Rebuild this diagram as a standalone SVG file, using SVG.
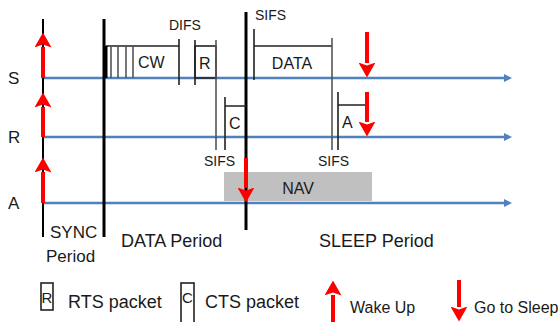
<svg xmlns="http://www.w3.org/2000/svg" width="560" height="322" viewBox="0 0 560 322">
<style>
text{font-family:"Liberation Sans",Arial,sans-serif;fill:#1a1a1a}
.lbl{font-size:17px}
.big{font-size:18px}
.sm{font-size:14px}
.box{font-size:16px}
.bl{stroke:#4f81bd;stroke-width:2.5;fill:none}
.blk{stroke:#000;fill:none}
.th{stroke:#222;stroke-width:1.6;fill:none}
.gr{stroke:#555;stroke-width:1.6;fill:none}
.red{stroke:#ff0000;stroke-width:4;fill:none}
</style>
<defs>
<marker id="rh" viewBox="0 0 15 17" refX="0.5" refY="8.5" markerWidth="15" markerHeight="17" markerUnits="userSpaceOnUse" orient="auto"><path d="M0,0 L15,8.5 L0,17 L3,8.5 z" fill="#ff0000"/></marker>
<marker id="bh" viewBox="0 0 8 8" refX="1" refY="4" markerWidth="8" markerHeight="8" markerUnits="userSpaceOnUse" orient="auto"><path d="M0,0 L8,4 L0,8 z" fill="#4f81bd"/></marker>
</defs>
<rect width="560" height="322" fill="#fff"/>
<g id="nav"><rect x="224" y="172" width="148" height="29" fill="#c0c0c0"/><text x="298" y="194" text-anchor="middle" class="box">NAV</text></g>
<g id="timelines">
<line class="bl" x1="43" y1="78" x2="505" y2="78" marker-end="url(#bh)"/>
<line class="bl" x1="43" y1="137" x2="505" y2="137" marker-end="url(#bh)"/>
<line class="bl" x1="43" y1="203" x2="505" y2="203" marker-end="url(#bh)"/>
</g>
<g id="labels-nodes">
<text x="8" y="84" class="lbl">S</text>
<text x="8" y="143" class="lbl">R</text>
<text x="8" y="209" class="lbl">A</text>
</g>
<g id="periods">
<line class="blk" x1="43" y1="19" x2="43" y2="237" stroke-width="2"/>
<line class="blk" x1="104" y1="19" x2="104" y2="237" stroke-width="3"/>
<line class="blk" x1="246" y1="12" x2="246" y2="230" stroke-width="3"/>
<text x="50" y="238" class="lbl">SYNC</text>
<text x="46" y="262" class="lbl">Period</text>
<text x="121" y="247" class="big">DATA Period</text>
<text x="319" y="247" class="big">SLEEP Period</text>
</g>
<g id="cw">
<path class="th" d="M104,46 H179 M179,39 V85"/>
<path class="blk" stroke-width="3" d="M106,46 V78"/>
<path class="gr" d="M111,46 V78 M118,46 V78 M126,46 V78 M133,46 V78"/>
<text x="138" y="68" class="box">CW</text>
<text x="169" y="30" class="sm">DIFS</text>
</g>
<g id="rts">
<path class="th" d="M195,40 V85"/>
<rect x="195" y="46" width="21" height="32" class="th" stroke-width="2"/>
<path class="gr" d="M216,40 V150"/>
<text x="199" y="69" class="box">R</text>
</g>
<g id="cts">
<path class="th" d="M225,97 V150 M225,106 H246"/>
<text x="229" y="129" class="box">C</text>
<text x="204" y="166" class="sm">SIFS</text>
<text x="255" y="20" class="sm">SIFS</text>
</g>
<g id="data">
<path class="th" d="M254,29 V80 M254,46 H332"/>
<path class="gr" d="M332,38 V150"/>
<text x="292" y="69" text-anchor="middle" class="box">DATA</text>
</g>
<g id="ack">
<path class="th" d="M338,92 V150 M338,105 H366"/>
<text x="342" y="128" class="box">A</text>
<text x="318" y="166" class="sm">SIFS</text>
</g>
<g id="arrows">
<line class="red" x1="43" y1="78" x2="43" y2="47" marker-end="url(#rh)"/>
<line class="red" x1="43" y1="137" x2="43" y2="107" marker-end="url(#rh)"/>
<line class="red" x1="43" y1="203" x2="43" y2="172" marker-end="url(#rh)"/>
<line class="red" x1="367" y1="32" x2="367" y2="63" marker-end="url(#rh)"/>
<line class="red" x1="367" y1="92" x2="367" y2="122" marker-end="url(#rh)"/>
<line class="red" x1="246" y1="158" x2="246" y2="188" marker-end="url(#rh)"/>
</g>
<g id="legend">
<rect x="41" y="283" width="12" height="27" class="th" stroke-width="1.5"/>
<text x="47" y="303" class="box" text-anchor="middle" style="font-size:15px">R</text>
<text x="68" y="308" class="big">RTS packet</text>
<rect x="181" y="283" width="13" height="40" class="th" stroke-width="1.5"/>
<text x="187.5" y="303" class="box" text-anchor="middle" style="font-size:15px">C</text>
<text x="205" y="308" class="big">CTS packet</text>
<line class="red" x1="333" y1="322" x2="333" y2="295" marker-end="url(#rh)"/>
<text x="350" y="313" class="box">Wake Up</text>
<line class="red" x1="459" y1="280" x2="459" y2="307" marker-end="url(#rh)"/>
<text x="474" y="313" class="box">Go to Sleep</text>
</g>
</svg>
